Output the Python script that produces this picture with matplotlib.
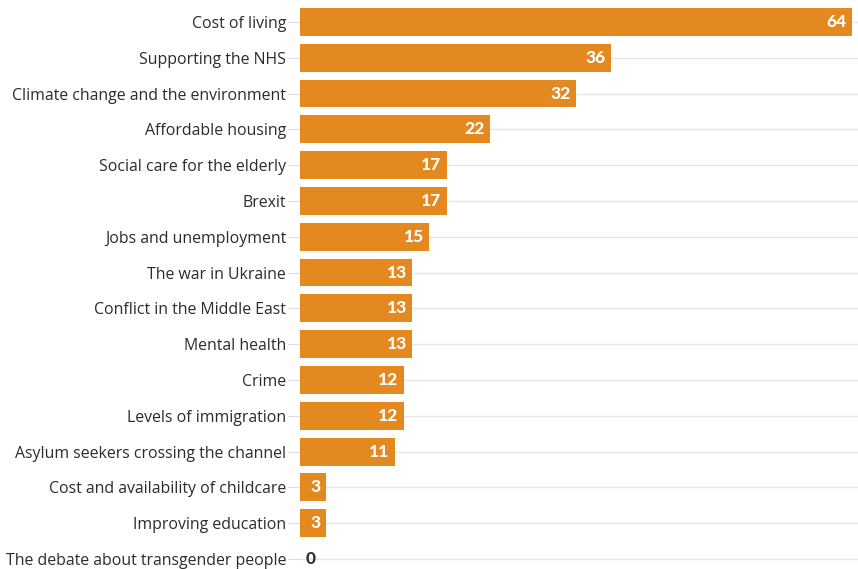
import matplotlib
matplotlib.use("Agg")
import matplotlib.pyplot as plt

categories = [
    "Cost of living", "Supporting the NHS", "Climate change and the environment",
    "Affordable housing", "Social care for the elderly", "Brexit",
    "Jobs and unemployment", "The war in Ukraine", "Conflict in the Middle East",
    "Mental health", "Crime", "Levels of immigration",
    "Asylum seekers crossing the channel", "Cost and availability of childcare",
    "Improving education", "The debate about transgender people",
]
values = [64, 36, 32, 22, 17, 17, 15, 13, 13, 13, 12, 12, 11, 3, 3, 0]

plt.rcParams["font.family"] = ["Open Sans", "DejaVu Sans"]

W, H = 858, 569
fig = plt.figure(figsize=(W / 100, H / 100), dpi=100)
ax = fig.add_axes([300 / W, 0, 1 - 300 / W, (H - 4) / H])

ys = list(range(len(categories)))
ax.barh(ys, values, height=0.78, color="#E3891F", zorder=2)
ax.set_xlim(0, 64 * 558 / 552)
ax.set_ylim(15.28, -0.5)

ax.set_yticks(ys)
ax.set_yticklabels(categories, fontsize=11.4, color="#2b2b2b")
ax.tick_params(axis="y", length=9, color="#dddddd", pad=1)
ax.set_xticks([])
ax.grid(axis="y", color="#e6e6e6", linewidth=1, zorder=0)
for s in ax.spines.values():
    s.set_visible(False)

for y, v in zip(ys, values):
    if v > 0:
        ax.text(v - 0.6, y, str(v), ha="right", va="center", color="white",
                fontsize=12.5, fontweight="black", family=["Lato", "DejaVu Sans"], zorder=3)
    else:
        ax.text(v + 0.6, y, str(v), ha="left", va="center", color="#333333",
                fontsize=12.5, fontweight="black", family=["Lato", "DejaVu Sans"], zorder=3)

fig.savefig("out.png", dpi=100)
